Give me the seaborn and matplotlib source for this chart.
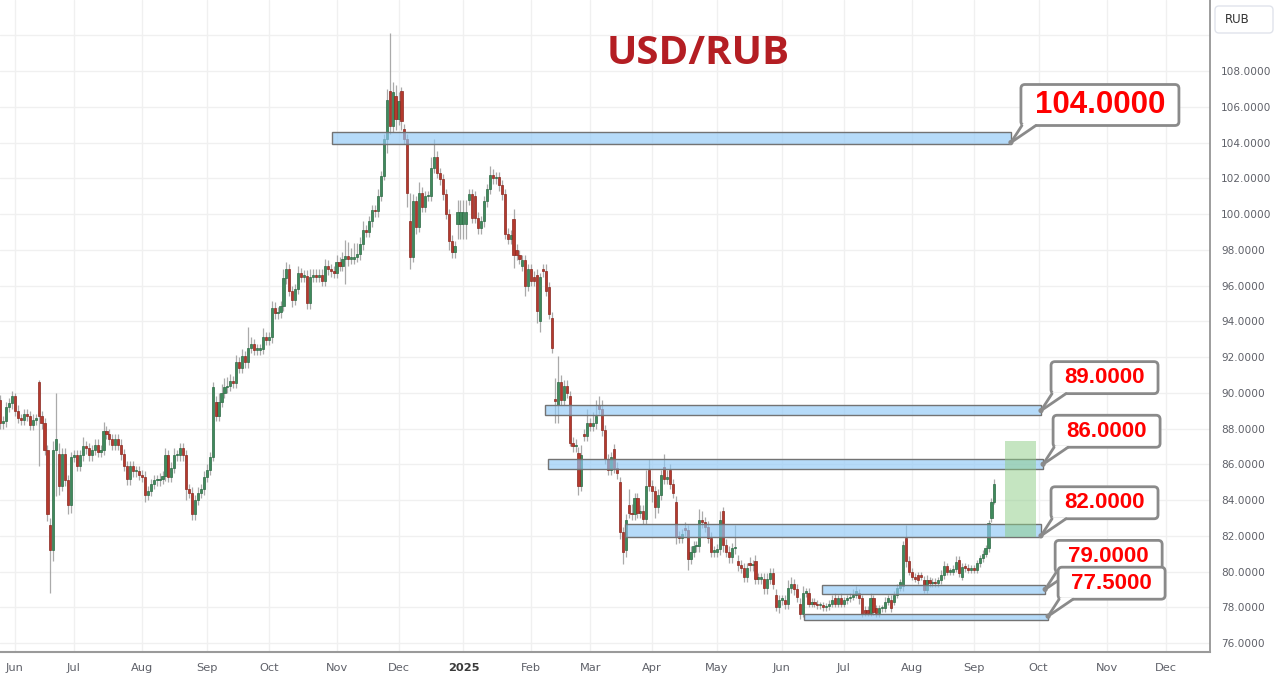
import numpy as np
import pandas as pd
import matplotlib
matplotlib.use("Agg")
import matplotlib.pyplot as plt
import seaborn as sns
from matplotlib.patches import Rectangle, FancyBboxPatch, Polygon, Circle
from matplotlib.transforms import IdentityTransform

# daily USD/RUB candles (first bar 2024-05-27, business days)
first_day = "2024-05-27"
closes = [
    88.3, 88.4, 89.2, 89.4, 89.8, 89.0, 88.6, 88.5, 88.8, 88.7,
    88.2, 88.5, 88.5, 88.7, 88.3, 86.8, 83.2, 81.2, 86.8, 87.4,
    84.8, 86.6, 85.1, 83.7, 86.4, 86.5, 85.9, 86.5, 87.0, 86.9,
    86.5, 86.8, 87.1, 86.7, 86.8, 87.85, 87.7, 87.4, 87.1, 87.4,
    87.1, 86.55, 85.9, 85.15, 85.9, 85.6, 85.6, 85.4, 85.3, 84.3,
    84.5, 84.9, 85.1, 85.1, 85.2, 85.35, 86.5, 85.3, 85.8, 86.5,
    86.5, 86.9, 86.5, 84.6, 84.4, 83.2, 84.0, 84.4, 84.6, 85.3,
    85.7, 86.4, 90.3, 88.7, 89.5, 90.0, 90.3, 90.4, 90.65, 90.55,
    91.7, 91.4, 92.05, 91.7, 92.5, 92.7, 92.4, 92.4, 92.45, 93.1,
    92.95, 93.1, 94.75, 94.45, 94.5, 94.85, 96.4, 96.9, 95.7, 95.2,
    95.8, 96.7, 96.5, 96.55, 95.0, 96.5, 96.6, 96.5, 96.6, 96.25,
    97.1, 96.9, 96.8, 96.7, 97.3, 97.1, 97.5, 97.65, 97.5, 97.5,
    97.6, 97.75, 98.3, 99.1, 99.0, 99.6, 100.2, 100.15, 101.0, 102.1,
    104.2, 106.4, 104.9, 106.8, 105.3, 106.3, 105.2, 104.2, 101.2, 97.6,
    100.7, 99.3, 101.2, 100.4, 101.0, 101.0, 102.6, 103.2, 102.3, 101.95,
    101.1, 100.0, 98.5, 97.85, 98.2, 100.1, 100.1, 100.1, 100.1, 101.1,
    99.8, 99.8, 99.2, 99.6, 100.7, 101.4, 102.2, 102.0, 102.05, 101.6,
    101.1, 98.9, 98.6, 98.8, 97.7, 97.7, 97.5, 97.4, 96.0, 96.9,
    96.25, 96.25, 94.6, 96.5, 96.8, 95.7, 94.4, 92.5, 89.55, 90.6,
    89.6, 90.4, 90.0, 87.2, 87.0, 87.1, 84.8, 86.5, 87.6, 88.3,
    88.15, 88.3, 88.7, 89.1, 87.9, 86.3, 85.7, 86.4, 85.8, 85.5,
    82.2, 81.1, 82.9, 83.3, 83.2, 84.1, 83.3, 83.4, 82.95, 84.8,
    84.8, 84.5, 83.6, 84.3, 85.4, 85.2, 85.3, 84.9, 84.4, 81.95,
    81.9, 82.1, 82.3, 80.7, 81.1, 81.4, 81.4, 82.9, 82.75, 82.5,
    81.9, 81.1, 81.1, 81.25, 82.9, 81.5, 81.1, 80.8, 81.3, 81.3,
    80.35, 80.2, 79.7, 80.2, 80.35, 80.35, 79.6, 79.6, 79.6, 79.05,
    79.6, 79.9, 79.3, 78.0, 78.4, 78.4, 78.2, 79.1, 79.3, 79.0,
    78.6, 77.65, 78.8, 78.8, 78.2, 78.3, 78.2, 78.1, 78.1, 78.0,
    78.05, 78.2, 78.4, 78.2, 78.5, 78.2, 78.4, 78.5, 78.6, 78.7,
    78.9, 78.5, 77.65, 77.7, 77.7, 78.5, 77.75, 77.66, 77.94, 77.94,
    78.3, 78.5, 77.95, 78.7, 79.1, 79.4, 81.5, 80.56, 80.0, 79.7,
    79.6, 79.5, 79.7, 78.97, 79.5, 79.35, 79.44, 79.35, 79.5, 79.8,
    80.3, 80.0, 80.0, 80.15, 80.55, 79.9, 80.25, 80.2, 80.1, 80.15,
    80.1, 80.45, 80.75, 81.0, 81.3, 82.7, 83.9, 84.9,
]

# bars that open away from the previous close
gap_opens = {
    0: 89.6, 13: 90.6, 17: 82.6, 20: 86.6, 73: 89.5, 132: 106.9, 134: 106.6,
    136: 106.9, 137: 104.75, 139: 99.6, 155: 99.45, 156: 99.45, 157: 99.45,
    158: 99.45, 159: 100.8, 161: 101.0, 174: 99.7, 175: 98.0, 177: 97.1,
    181: 96.5, 182: 96.6, 183: 94.0, 184: 96.9, 186: 95.9, 187: 94.2,
    188: 89.6, 189: 89.3, 193: 89.8, 196: 86.65, 198: 87.7, 203: 89.3,
    208: 86.85, 210: 85.0, 212: 81.2, 213: 83.7, 220: 85.7, 225: 85.85,
    227: 85.7, 229: 83.9, 232: 82.45, 245: 83.4, 250: 80.6, 254: 80.5,
    256: 80.6, 263: 78.7, 271: 78.2, 283: 78.5, 291: 78.8, 293: 77.85,
    294: 77.85, 297: 77.94, 302: 78.4, 303: 78.3, 306: 79.2, 307: 81.86,
    311: 79.8, 312: 79.8, 313: 79.53, 325: 80.65, 326: 79.7, 336: 82.98,
}

wick_up = [
    0.3, 0.3, 0.3, 0.3, 0.3, 0.2, 0.3, 0.2, 0.3, 0.3,
    0.3, 0.3, 0.3, 0.1, 0.3, 0.3, 0.3, 0.4, 0.5, 2.6,
    0.6, 0.3, 0.3, 0.3, 0.3, 0.3, 0.3, 0.3, 0.5, 0.3,
    0.3, 0.3, 0.3, 0.3, 0.3, 0.5, 0.3, 0.3, 0.3, 0.3,
    0.3, 0.3, 0.3, 0.3, 0.3, 0.3, 0.3, 0.3, 0.3, 0.3,
    0.3, 0.3, 0.3, 0.3, 0.3, 0.3, 0.4, 0.3, 0.3, 0.4,
    0.3, 0.3, 0.3, 0.3, 0.3, 0.3, 0.3, 0.3, 0.3, 0.3,
    0.3, 0.3, 0.3, 0.3, 0.5, 0.5, 0.5, 0.5, 0.4, 0.3,
    0.4, 0.3, 0.4, 0.3, 1.2, 0.4, 0.3, 0.3, 0.3, 0.5,
    0.3, 0.3, 0.4, 0.3, 0.3, 0.3, 0.5, 0.4, 0.3, 0.3,
    0.3, 0.4, 0.3, 0.3, 0.3, 0.4, 0.3, 0.3, 0.3, 0.3,
    0.4, 0.3, 0.3, 0.3, 0.4, 0.3, 0.4, 0.9, 0.8, 0.6,
    0.8, 0.6, 0.4, 0.5, 0.3, 0.3, 0.3, 0.3, 0.4, 0.3,
    0.3, 0.6, 3.2, 0.6, 0.6, 0.5, 0.2, 0.3, 0.3, 1.6,
    0.4, 0.3, 0.6, 0.3, 0.3, 0.3, 0.6, 1.0, 0.3, 0.3,
    0.3, 0.3, 0.3, 0.3, 0.3, 0.7, 0.7, 0.7, 0.7, 0.3,
    0.3, 0.3, 0.3, 0.3, 0.3, 0.3, 0.5, 0.3, 0.3, 0.3,
    0.3, 0.3, 0.3, 0.3, 0.6, 0.3, 0.3, 0.3, 0.3, 0.3,
    0.3, 0.3, 0.3, 0.2, 0.3, 0.4, 0.3, 0.3, 1.2, 1.46,
    0.4, 0.3, 0.3, 0.3, 0.3, 0.3, 0.3, 0.6, 0.3, 0.8,
    0.3, 0.6, 0.9, 0.5, 0.5, 0.3, 0.3, 0.3, 0.3, 0.3,
    0.3, 0.3, 0.3, 0.9, 0.5, 0.3, 0.3, 0.3, 0.3, 0.9,
    0.6, 0.3, 0.3, 0.3, 0.3, 0.75, 0.4, 0.3, 0.3, 0.3,
    0.3, 0.3, 0.3, 0.3, 0.3, 0.3, 0.3, 0.6, 0.5, 0.3,
    0.3, 0.3, 0.3, 0.3, 0.5, 0.2, 0.3, 0.3, 0.3, 1.3,
    0.3, 0.3, 0.3, 0.3, 0.3, 0.3, 0.3, 0.3, 0.3, 0.3,
    0.3, 0.3, 0.3, 0.3, 0.3, 0.3, 0.3, 0.4, 0.4, 0.3,
    0.3, 0.3, 0.4, 0.3, 0.3, 0.2, 0.2, 0.2, 0.2, 0.2,
    0.2, 0.2, 0.3, 0.3, 0.2, 0.3, 0.2, 0.2, 0.2, 0.3,
    0.3, 0.2, 0.2, 0.2, 0.2, 0.3, 0.2, 0.2, 0.2, 0.2,
    0.3, 0.2, 0.3, 0.2, 0.2, 0.2, 0.2, 0.74, 0.3, 0.2,
    0.2, 0.2, 0.2, 0.2, 0.3, 0.2, 0.2, 0.2, 0.2, 0.3,
    0.3, 0.2, 0.2, 0.2, 0.3, 0.2, 0.2, 0.2, 0.2, 0.2,
    0.2, 0.2, 0.2, 0.2, 0.2, 0.2, 0.2, 0.3,
]

wick_dn = [
    0.3, 0.3, 0.3, 0.3, 0.3, 0.3, 0.3, 0.3, 0.3, 0.3,
    0.3, 0.3, 0.3, 2.8, 0.3, 0.3, 0.4, 2.4, 0.6, 2.6,
    0.5, 0.3, 0.3, 0.5, 0.4, 0.3, 0.3, 0.3, 0.3, 0.3,
    0.3, 0.3, 0.3, 0.3, 0.3, 0.3, 0.3, 0.3, 0.3, 0.3,
    0.3, 0.3, 0.3, 0.3, 0.3, 0.3, 0.3, 0.3, 0.3, 0.4,
    0.3, 0.3, 0.3, 0.3, 0.3, 0.3, 0.3, 0.3, 0.3, 0.3,
    0.3, 0.3, 0.3, 0.6, 0.3, 0.3, 0.3, 0.3, 0.3, 0.3,
    0.3, 0.3, 0.2, 0.3, 0.3, 0.3, 0.3, 0.3, 0.3, 0.3,
    0.3, 0.3, 0.3, 0.3, 0.3, 0.3, 0.3, 0.3, 0.3, 0.3,
    0.3, 0.3, 0.3, 0.3, 0.3, 0.3, 0.3, 0.3, 0.3, 0.4,
    0.3, 0.3, 0.3, 0.3, 0.3, 0.3, 0.3, 0.3, 0.3, 0.3,
    0.3, 0.3, 0.3, 0.3, 0.3, 0.3, 0.3, 1.4, 0.4, 0.3,
    0.3, 0.3, 0.3, 0.3, 0.3, 0.3, 0.3, 0.3, 0.3, 0.3,
    0.2, 0.8, 0.4, 0.3, 0.6, 0.3, 0.5, 0.3, 0.8, 0.7,
    0.3, 0.4, 0.3, 0.3, 0.3, 0.3, 0.3, 0.3, 0.3, 0.3,
    0.3, 0.3, 0.5, 0.3, 0.3, 0.85, 0.85, 0.85, 0.85, 0.3,
    0.3, 0.3, 0.3, 0.3, 0.3, 0.3, 0.3, 0.3, 0.3, 0.3,
    0.3, 0.3, 0.3, 0.3, 0.7, 0.3, 0.3, 0.3, 0.6, 0.3,
    0.3, 0.3, 0.7, 0.6, 0.3, 0.3, 0.3, 0.3, 1.25, 1.0,
    0.3, 0.3, 0.3, 0.2, 0.3, 0.3, 0.5, 0.3, 0.3, 0.3,
    0.3, 0.3, 0.3, 0.3, 0.3, 0.3, 0.3, 0.3, 0.3, 0.3,
    0.4, 0.7, 0.4, 0.3, 0.3, 0.3, 0.3, 0.3, 0.3, 0.3,
    0.3, 0.6, 0.6, 0.3, 0.3, 0.3, 0.3, 0.3, 0.3, 0.4,
    0.3, 0.3, 0.3, 0.6, 0.3, 0.3, 0.3, 0.3, 0.3, 0.3,
    0.3, 0.3, 0.3, 0.3, 0.3, 0.4, 0.3, 0.3, 0.3, 0.3,
    0.3, 0.3, 0.3, 0.3, 0.3, 0.3, 0.3, 0.3, 0.3, 0.3,
    0.3, 0.3, 0.3, 0.2, 0.3, 0.3, 0.3, 0.3, 0.3, 0.3,
    0.3, 0.3, 0.2, 0.2, 0.2, 0.2, 0.2, 0.2, 0.2, 0.2,
    0.2, 0.2, 0.2, 0.2, 0.2, 0.2, 0.2, 0.2, 0.2, 0.2,
    0.2, 0.3, 0.2, 0.2, 0.2, 0.2, 0.2, 0.2, 0.2, 0.2,
    0.2, 0.2, 0.2, 0.2, 0.2, 0.2, 0.3, 0.3, 0.2, 0.2,
    0.2, 0.2, 0.2, 0.2, 0.2, 0.2, 0.2, 0.2, 0.2, 0.2,
    0.2, 0.2, 0.2, 0.2, 0.2, 0.2, 0.2, 0.2, 0.2, 0.2,
    0.2, 0.2, 0.2, 0.2, 0.2, 0.2, 0.2, 0.1,
]

# support / resistance levels and their zones
levels = [104.0, 89.0, 86.0, 82.0, 79.0, 77.5]
zone_lo = [103.9, 88.75, 85.75, 81.95, 78.75, 77.3]
zone_hi = [104.6, 89.3, 86.3, 82.65, 79.25, 77.62]
level_labels = ["104.0000", "89.0000", "86.0000", "82.0000", "79.0000", "77.5000"]
target_lo, target_hi = 81.93, 87.3

y_ticks = np.arange(76, 112, 2)

# ---- build OHLC frame
dates = pd.bdate_range(first_day, periods=len(closes))
df = pd.DataFrame({"date": dates, "close": closes})
df["open"] = df["close"].shift(1)
for k, v in gap_opens.items():
    df.loc[k, "open"] = v
df["high"] = df[["open", "close"]].max(axis=1) + np.array(wick_up)
df["low"] = df[["open", "close"]].min(axis=1) - np.array(wick_dn)
df["x"] = np.arange(len(df))

# month ticks on the business-day axis (axis runs on past the data)
axis_days = pd.bdate_range(first_day, "2025-12-31")
month_pos, month_lab = [], []
for m in pd.date_range("2024-06-01", "2025-12-01", freq="MS"):
    pos = int(np.searchsorted(axis_days, m))
    month_pos.append(pos)
    month_lab.append("2025" if (m.month == 1) else m.strftime("%b"))

# ---- figure
sns.set_theme(style="white")
plt.rcParams["font.family"] = ["DejaVu Sans"]

W, H = 1280, 692
fig = plt.figure(figsize=(W / 100, H / 100), dpi=100)
fig.patch.set_facecolor("white")
ax = fig.add_axes([0, 40 / H, 1210 / W, 652 / H])
ax.set_facecolor("white")

ax.set_xlim(-0.085, 410.08)
ax.set_ylim(75.497, 111.972)

# grid
ax.set_axisbelow(True)
for p in month_pos:
    ax.axvline(p, color="#f0f0f0", lw=1.0, zorder=0)
for yv in y_ticks:
    ax.axhline(yv, color="#f0f0f0", lw=1.0, zorder=0)

# candles
up = df["close"] >= df["open"]
ax.vlines(df["x"], df["low"], df["high"], colors="#9b9b9b", lw=0.9, alpha=0.85, zorder=2)
body_lo = df[["open", "close"]].min(axis=1)
body_h = (df["close"] - df["open"]).abs().clip(lower=0.09)
ax.bar(df["x"][up], body_h[up], bottom=body_lo[up], width=0.72,
       color="#3f8a5c", edgecolor="#2d6a45", lw=0.5, zorder=3)
ax.bar(df["x"][~up], body_h[~up], bottom=body_lo[~up], width=0.72,
       color="#b5392d", edgecolor="#8a2820", lw=0.5, zorder=3)

# zones
zone_x0 = [112.5, 184.7, 185.7, 211.8, 278.6, 272.5]
zone_x1 = [342.6, 352.8, 353.5, 352.8, 354.2, 355.2]
for x0, x1, lo, hi in zip(zone_x0, zone_x1, zone_lo, zone_hi):
    ax.add_patch(Rectangle((x0, lo), x1 - x0, hi - lo,
                           facecolor=(0.56, 0.79, 0.97, 0.65),
                           edgecolor="#737373", lw=1.0, zorder=4))

# projected move box
ax.add_patch(Rectangle((340.6, target_lo), 10.5, target_hi - target_lo,
                       facecolor=(0.55, 0.80, 0.52, 0.5), edgecolor="none", zorder=5))

# axes styling
for s in ["left", "top"]:
    ax.spines[s].set_visible(False)
ax.spines["right"].set_color("#8c8c8c")
ax.spines["right"].set_linewidth(1.2)
ax.spines["bottom"].set_color("#9a9a9a")
ax.spines["bottom"].set_linewidth(1.5)

ax.yaxis.tick_right()
ax.set_yticks(y_ticks)
ax.set_yticklabels([f"{v:.4f}" if v <= 108 else "" for v in y_ticks])
ax.tick_params(axis="y", length=0, pad=8, labelsize=7.6, labelcolor="#5f6169")
ax.set_xticks(month_pos)
ax.set_xticklabels(month_lab)
ax.tick_params(axis="x", length=0, pad=8, labelsize=8.2, labelcolor="#5f6169")
for t in ax.get_xticklabels():
    if t.get_text() == "2025":
        t.set_fontweight("bold")
        t.set_color("#3a3a3a")
ax.grid(False)

# ---- callouts, drawn in pixel space
fig.canvas.draw()
ident = IdentityTransform()
for i, (x1, lvl, lab) in enumerate(zip(zone_x1, levels, level_labels)):
    dx, dy = ax.transData.transform((x1, lvl))
    big = i == 0
    bw, bh = (158, 41) if big else (107, 32)
    bx, by = dx + 10, dy + 17
    box = FancyBboxPatch((bx, by), bw, bh, boxstyle="round,pad=0,rounding_size=4",
                         facecolor="white", edgecolor="#8a8a8a", lw=2.0,
                         transform=ident, zorder=20 + i * 2)
    fig.add_artist(box)
    tail = Polygon([(bx + 1.5, by + 1.5), (bx + 15, by + 1.5), (dx, dy)], closed=True,
                   facecolor="white", edgecolor="none", transform=ident, zorder=20 + i * 2)
    fig.add_artist(tail)
    for tx in (bx + 1, bx + 15):
        fig.add_artist(plt.Line2D([tx, dx], [by, dy], color="#8a8a8a", lw=2.0,
                                  transform=ident, zorder=20 + i * 2))
    fig.add_artist(Circle((dx, dy), 2.6, facecolor="#8a8a8a", edgecolor="none",
                          transform=ident, zorder=20 + i * 2))
    fig.text(bx + bw / 2, by + bh / 2, lab, transform=ident, ha="center", va="center",
             fontsize=22.5 if big else 16, fontweight="bold", color="#ff0000",
             family=["Liberation Sans", "DejaVu Sans"], zorder=21 + i * 2)

# title
fig.text(698, H - 53, "USD/RUB", transform=ident, ha="center", va="center",
         fontsize=29, fontweight="bold", color="#b41e23",
         family=["Open Sans", "DejaVu Sans"])

# currency tag in the price scale
fig.add_artist(FancyBboxPatch((1215, H - 33), 58, 27, boxstyle="round,pad=0,rounding_size=4",
                              facecolor="white", edgecolor="#e0e3eb", lw=1.0, transform=ident))
fig.text(1225, H - 19.5, "RUB", transform=ident, ha="left", va="center",
         fontsize=8.5, color="#333333")

fig.savefig("out.png", dpi=100, facecolor="white")
